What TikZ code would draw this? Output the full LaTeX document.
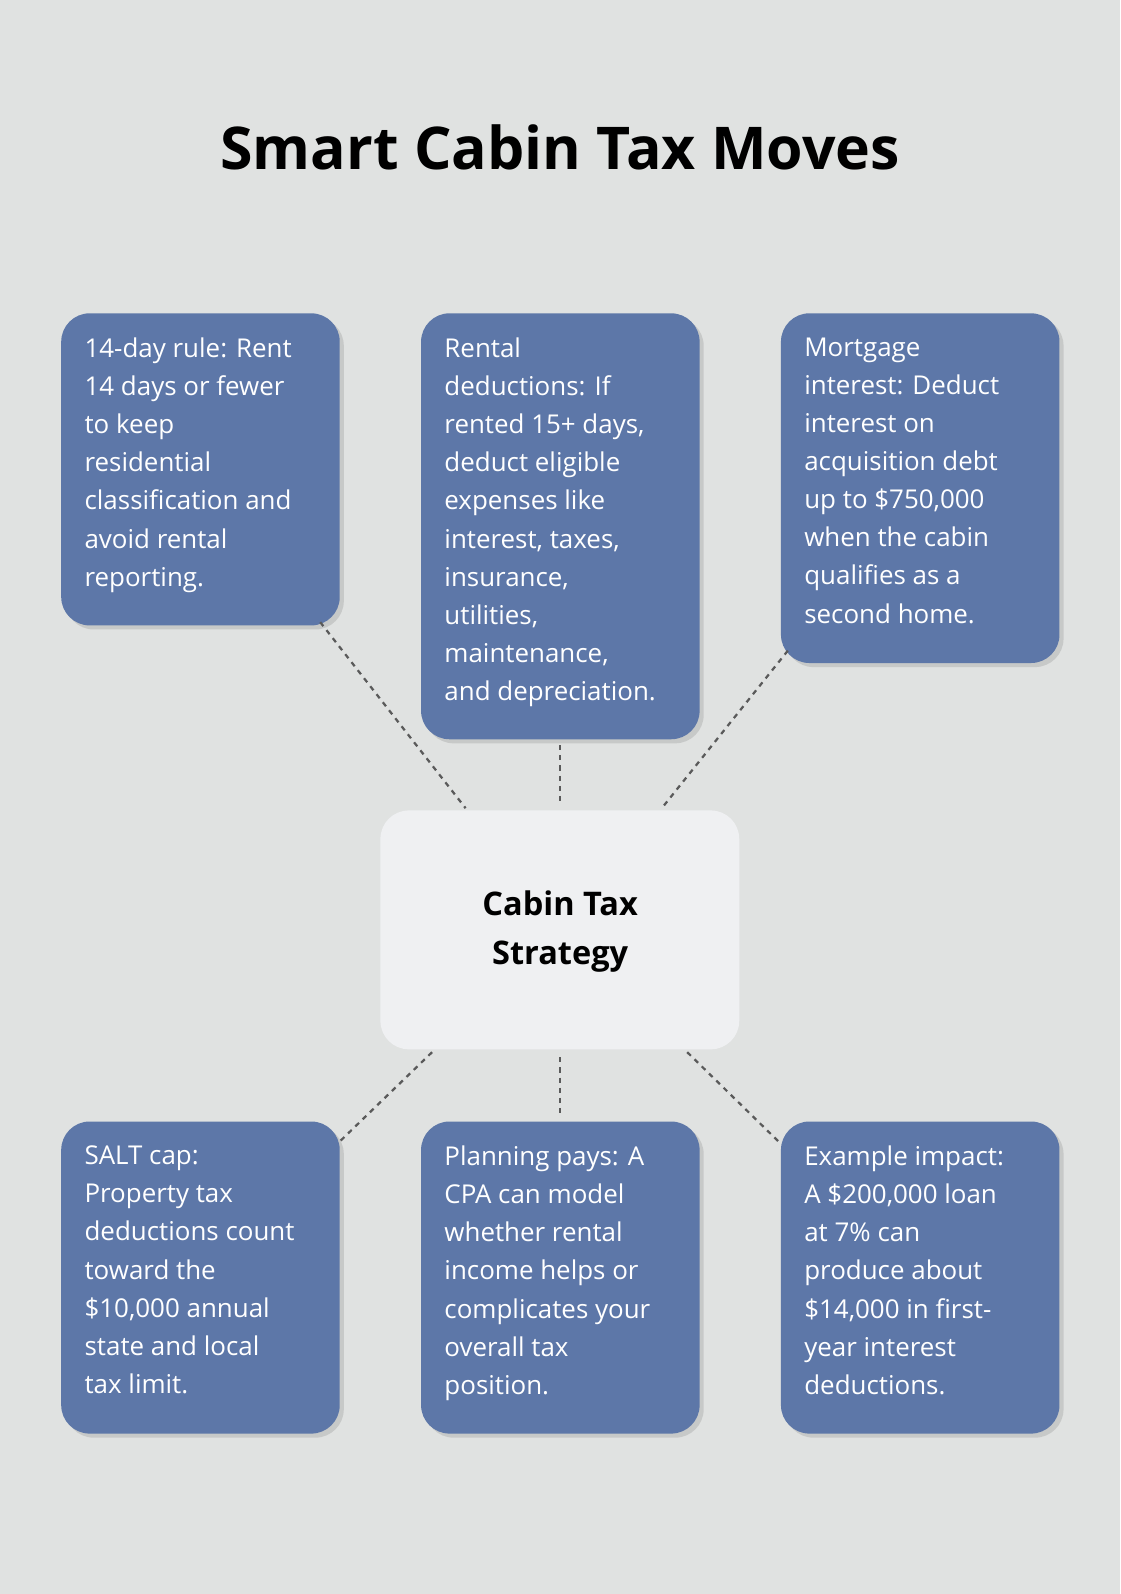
\documentclass[tikz,border=0pt]{standalone}
\usepackage{fontspec}
\setmainfont{Open Sans}
\usetikzlibrary{positioning,shadows}
\definecolor{bg}{HTML}{E0E2E1}
\definecolor{cardblue}{HTML}{5D77A8}
\definecolor{hubfill}{HTML}{EFF0F2}
\definecolor{linkgray}{HTML}{5A5A5A}
\tikzset{
  card/.style={fill=cardblue, rounded corners=28pt, minimum width=274pt, anchor=north west,
    drop shadow={shadow xshift=4pt, shadow yshift=-4pt, opacity=0.25}},
  cardtext/.style={anchor=north west, align=left, text=white, inner sep=0pt,
    font=\fontsize{25.5}{37.5}\selectfont},
  link/.style={linkgray, line width=2.2pt, dash pattern=on 5pt off 5pt}
}
\begin{document}
\begin{tikzpicture}[x=1pt,y=-1pt]
\fill[bg] (0,0) rectangle (1102,1568);
\useasboundingbox (0,0) rectangle (1102,1568);
\node (title) at (551,145) {\fontsize{58}{64}\selectfont\bfseries Smart Cabin Tax Moves};
% top row
\node[card, minimum height=307pt] (rule) at (60,308) {};
\node[cardtext] (ruletxt) at (83,332) {14-day rule: Rent\\14 days or fewer\\to keep\\residential\\classification and\\avoid rental\\reporting.};
\node[card, minimum height=419pt] (rental) at (414,308) {};
\node[cardtext] (rentaltxt) at (437,332) {Rental\\deductions: If\\rented 15+ days,\\deduct eligible\\expenses like\\interest, taxes,\\insurance,\\utilities,\\maintenance,\\and depreciation.};
\node[card, minimum height=344pt] (mortgage) at (768,308) {};
\node[cardtext] (mortgagetxt) at (791,332) {Mortgage\\interest: Deduct\\interest on\\acquisition debt\\up to \$750,000\\when the cabin\\qualifies as a\\second home.};
% hub
\node[fill=hubfill, rounded corners=28pt, minimum width=353pt, minimum height=235pt, anchor=north west] (hub) at (374,797) {};
\node[align=center, font=\fontsize{32}{48}\selectfont\bfseries] (hubtxt) at (551,916) {Cabin Tax\\Strategy};
% bottom row
\node[card, minimum height=307pt] (salt) at (60,1103) {};
\node[cardtext] (salttxt) at (83,1127) {SALT cap:\\Property tax\\deductions count\\toward the\\\$10,000 annual\\state and local\\tax limit.};
\node[card, minimum height=307pt] (plan) at (414,1103) {};
\node[cardtext] (plantxt) at (437,1127) {Planning pays: A\\CPA can model\\whether rental\\income helps or\\complicates your\\overall tax\\position.};
\node[card, minimum height=307pt] (impact) at (768,1103) {};
\node[cardtext] (impacttxt) at (791,1127) {Example impact:\\A \$200,000 loan\\at 7\% can\\produce about\\\$14,000 in first-\\year interest\\deductions.};
% links
\coordinate (a1) at (315,612); \coordinate (a2) at (458,795);
\coordinate (b1) at (551,733); \coordinate (b2) at (551,790);
\coordinate (c1) at (775,640); \coordinate (c2) at (651,795);
\coordinate (d1) at (425,1035); \coordinate (d2) at (332,1125);
\coordinate (e1) at (551,1040); \coordinate (e2) at (551,1097);
\coordinate (f1) at (676,1035); \coordinate (f2) at (768,1125);
\draw[link] (a1) -- (a2);
\draw[link] (b1) -- (b2);
\draw[link] (c1) -- (c2);
\draw[link] (d1) -- (d2);
\draw[link] (e1) -- (e2);
\draw[link] (f1) -- (f2);
\end{tikzpicture}
\end{document}
